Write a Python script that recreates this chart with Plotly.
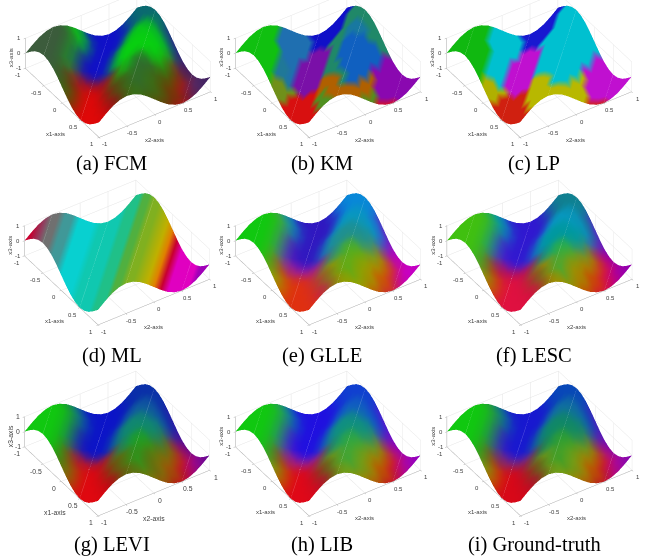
import plotly.graph_objects as go

TICKS = [-1, -0.5, 0, 0.5, 1]
Z_TICKS = [-1, 0, 1]
N = 17
GRID = [-1 + 0.125 * k for k in range(N)]

# height read along x1+x2, from -2 to 2 in steps of 0.125
Z_BY_SUM = [0, .38, .71, .92, 1, .92, .71, .38, 0, -.38, -.71, -.92, -1, -.92, -.71, -.38, 0,
            .38, .71, .92, 1, .92, .71, .38, 0, -.38, -.71, -.92, -1, -.92, -.71, -.38, 0]
# edits where the far edge sits lower than that profile: (i, j, z)
Z_EDITS = []

SMOOTH_ROWS = [
    "GGGGGGgtcbbbbbbBB",
    "GGGGGGgtcbbbbbBBB",
    "GGGGGgtcbbbbbbBBB",
    "GGGGgtPbbbbbbBBBB",
    "GGGgtPbbbbbbccBBB",
    "GGgtPbbbbbcccccBB",
    "GgdkkPbbbcttcccBB",
    "gdOkkkPbcttttccBP",
    "oyOrrkkPtttttccBP",
    "yOrrrRkdttttttcBP",
    "OrrrrkdttggtttcPp",
    "rrrrRdotgggttokmp",
    "rrrrRdoogggooyOmp",
    "rrrRddoggooyyOrmM",
    "rrrRdoggooyOOrmMp",
    "rrRRdoogooyOORmMp",
    "rrRdoooyyOORrmMpp",
]
REGION_ROWS = [
    "GGGGGGGAAAABBBBBB",
    "GGGGGGAAAAABBBBBB",
    "GGGGGAAAAABBBBBtt",
    "GGGGGAAAAPPBBBttt",
    "GGGGaAAPPPPtttttt",
    "GGGaaAPPPPPttcctt",
    "GGaaAPPPPPttccctt",
    "GOOaPPPPPttTTcctt",
    "OOOOPPPPttTTTTttt",
    "OORRPPPttTTTTTTtt",
    "RRRRRPYttTTTTTTQQ",
    "RRRRRYYtTTTTTTQQQ",
    "RRRRYYYtTTTTQQQQQ",
    "RRRyyYYtTTTYQQQQQ",
    "RRRyYYtTTYYQQQQQQ",
    "RRyyYYYYYYyQQQQQQ",
    "RRyyYYYYyySSSQQQQ",
]
ML_BY_SUM = "rrRqeennCCCTTTTuuuvvwwxyOrMMMMppp"
ML_ROWS = [ML_BY_SUM[i:i + N] for i in range(N)]

PAL_A = dict(G="#3c5c3c", g="#306a30", t="#08d010", c="#08c818", b="#1010c8", B="#0a6a70", P="#301890", k="#a01428",
             d="#505010", o="#387018", y="#505808", O="#703808", r="#e00808", R="#901018", m="#602050", M="#503070", p="#402060")
PAL_E = dict(G="#10c810", g="#50b020", t="#209090", c="#0898c0", b="#3018c0", B="#0888d8", P="#7010c0", k="#a02090",
             d="#807020", o="#90a000", y="#a0a000", O="#d05000", r="#e03010", R="#c02050", m="#c000b0", M="#d000d0", p="#c000c0")
PAL_F = dict(G="#40c010", g="#30b040", t="#0098a0", c="#0898c0", b="#3018d0", B="#108090", P="#6018d0", k="#b01060",
             d="#706020", o="#a09000", y="#a09000", O="#d04000", r="#e01040", R="#d01040", m="#d00070", M="#a000b0", p="#9000b0")
PAL_G = dict(G="#10c810", g="#20a020", t="#108870", c="#105aa0", b="#0c14c8", B="#0a30a8", P="#3018a8", k="#b01830",
             d="#606010", o="#5c7010", y="#807808", O="#a05008", r="#e00810", R="#b00818", m="#b00860", M="#a008a0", p="#600890")
PAL_H = dict(G="#10c810", g="#30a840", t="#109080", c="#1060c0", b="#2010e0", B="#1040d0", P="#6010d0", k="#a02080",
             d="#606018", o="#70a018", y="#a08c00", O="#c05000", r="#e00818", R="#b01030", m="#c00878", M="#a808b8", p="#9000c0")
PAL_I = dict(G="#10c810", g="#30a030", t="#108868", c="#1070a0", b="#1818d0", B="#0848b8", P="#5018c0", k="#802870",
             d="#606018", o="#70a018", y="#a08c00", O="#c05000", r="#d80818", R="#a81030", m="#c00878", M="#a808a8", p="#8008b0")
PAL_KM = dict(G="#10c010", a="#207898", A="#1f6fb0", B="#1010c8", P="#7a10a8", O="#70901a", R="#d81010", Y="#b06000",
              y="#509020", T="#1060c0", t="#208868", c="#1878a0", Q="#8a08b0", S="#d01030")
PAL_LP = dict(G="#10b810", a="#00c0d0", A="#00c0d0", B="#1818d0", P="#c010d0", O="#b0b000", R="#d02010", Y="#b8b800",
              y="#b8b800", T="#00c0d0", t="#00c0d0", c="#00c0d0", Q="#c010d0", S="#d02020")
PAL_ML = dict(r="#c80030", R="#a82048", q="#904060", e="#707070", n="#409898", C="#08d0d0", T="#10c8b0", u="#20c088",
              v="#50b040", w="#80b020", x="#a0b010", y="#c0b000", O="#e08000", M="#e000c0", p="#a000b8")

CAPTIONS = ["(a) FCM", "(b) KM", "(c) LP", "(d) ML", "(e) GLLE", "(f) LESC", "(g) LEVI", "(h) LIB", "(i) Ground-truth"]
ROWS = [SMOOTH_ROWS, REGION_ROWS, REGION_ROWS, ML_ROWS, SMOOTH_ROWS, SMOOTH_ROWS, SMOOTH_ROWS, SMOOTH_ROWS, SMOOTH_ROWS]
PALS = [PAL_A, PAL_KM, PAL_LP, PAL_ML, PAL_E, PAL_F, PAL_G, PAL_H, PAL_I]
BLUR = [2, 0, 0, 0, 2, 2, 2, 2, 2]

W, H = 645, 556
CENTER_X = [117.5, 328, 539, 116.5, 327.5, 540, 117, 327.5, 540]
CENTER_Y = [62.5, 62.5, 62.5, 252.5, 252.5, 252.5, 443.5, 443.5, 443.5]
CAP_X = [111, 322, 534, 112, 322, 534, 112, 322, 534]
CAP_Y = [164, 164, 164, 355, 355, 355, 544, 544, 544]
LABEL_SIZE = [6, 6, 6, 6, 6, 6, 6.8, 6, 6]
DOM_W, DOM_H = 212, 165
EYE = (.655, -.433, .62)
EYE_R = 2.2
SCALE = 1.62
Z_RATIO = 0.287
SHIFT_PER_PX = 0.0135

z_grid = [[Z_BY_SUM[i + j] for j in range(N)] for i in range(N)]
for i, j, v in Z_EDITS:
    z_grid[i][j] = v

xs = [GRID[i] for i in range(N) for j in range(N)]
ys = [GRID[j] for i in range(N) for j in range(N)]
zs = [z_grid[i][j] for i in range(N) for j in range(N)]
I, J, K = [], [], []
for i in range(N - 1):
    for j in range(N - 1):
        a = i * N + j
        I += [a, a + 1]
        J += [a + 1, a + N + 1]
        K += [a + N, a + N]


def vertex_colors(rows, pal, passes):
    rgb = [[[int(pal[ch][q:q + 2], 16) for q in (1, 3, 5)] for ch in row] for row in rows]
    for _ in range(passes):
        out = []
        for i in range(N):
            line = []
            for j in range(N):
                tot, wsum = [0, 0, 0], 0
                for di, dj, w in ((0, 0, 4), (1, 0, 1), (-1, 0, 1), (0, 1, 1), (0, -1, 1)):
                    ii, jj = i + di, j + dj
                    if 0 <= ii < N and 0 <= jj < N:
                        wsum += w
                        for c in range(3):
                            tot[c] += w * rgb[ii][jj][c]
                line.append([v / wsum for v in tot])
            out.append(line)
        rgb = out
    return ["#%02x%02x%02x" % tuple(int(v) for v in px) for line in rgb for px in line]


fig = go.Figure()
layout = dict(width=W, height=H, margin=dict(l=0, r=0, t=0, b=0), paper_bgcolor="white", showlegend=False, annotations=[])
for p in range(9):
    name = "scene" if p == 0 else f"scene{p + 1}"
    colors = vertex_colors(ROWS[p], PALS[p], BLUR[p])
    fig.add_trace(go.Mesh3d(x=xs, y=ys, z=zs, i=I, j=J, k=K, vertexcolor=colors, flatshading=False, hoverinfo="skip",
                            lighting=dict(ambient=1, diffuse=0, specular=0, roughness=1, fresnel=0), scene=name))
    cx, cy = CENTER_X[p], CENTER_Y[p]
    x0 = max(cx - DOM_W / 2, 0)
    x1 = min(cx + DOM_W / 2, W)
    y0 = max(cy - DOM_H / 2, 0)
    y1 = y0 + DOM_H
    shift = (y0 + DOM_H / 2 - cy) * SHIFT_PER_PX
    ax = dict(range=[-1, 1], tickmode="array", tickvals=TICKS, showticklabels=False, showbackground=False,
              gridcolor="#e4e4e4", gridwidth=1, zeroline=False, showline=True, linecolor="#a8a8a8", linewidth=1,
              ticks="outside", ticklen=2, tickcolor="#a8a8a8", showspikes=False, autorange=False, title=dict(text=""))
    font = dict(family="Liberation Sans", size=LABEL_SIZE[p], color="#404040")
    notes = []
    for t in TICKS:
        label = str(t)
        notes.append(dict(x=t, y=-1, z=-1, text=label, xshift=-7, yshift=-7, showarrow=False, font=font))
        notes.append(dict(x=1, y=t, z=-1, text=label, xshift=6, yshift=-7, showarrow=False, font=font))
    for t in Z_TICKS:
        notes.append(dict(x=-1, y=-1, z=t, text=str(t), xshift=-6, yshift=0, showarrow=False, font=font))
    notes.append(dict(x=0, y=-1, z=-1, text="x1-axis", xshift=-6, yshift=-31, showarrow=False, font=font))
    notes.append(dict(x=1, y=0, z=-1, text="x2-axis", xshift=0, yshift=-25, showarrow=False, font=font))
    notes.append(dict(x=-1, y=-1, z=0, text="x3-axis", xshift=-14, yshift=-4, textangle=-90, showarrow=False, font=font))
    layout[name] = dict(
        domain=dict(x=[x0 / W, x1 / W], y=[1 - y1 / H, 1 - y0 / H]),
        aspectmode="manual", aspectratio=dict(x=SCALE, y=SCALE, z=Z_RATIO * SCALE),
        camera=dict(projection=dict(type="orthographic"), up=dict(x=0, y=0, z=1), center=dict(x=0, y=0, z=-shift),
                    eye=dict(x=EYE[0] * EYE_R, y=EYE[1] * EYE_R, z=EYE[2] * EYE_R - shift)),
        xaxis=ax, yaxis=ax, zaxis=dict(ax, tickvals=Z_TICKS),
        annotations=notes,
    )
    layout["annotations"].append(dict(text=CAPTIONS[p], x=CAP_X[p] / W, y=1 - CAP_Y[p] / H, xref="paper", yref="paper",
                                      showarrow=False, xanchor="center", yanchor="middle",
                                      font=dict(family="Liberation Serif", size=20.5, color="black")))
fig.update_layout(**layout)
fig.write_html("out.html", post_script="document.body.style.margin='0';", config=dict(displayModeBar=False))
